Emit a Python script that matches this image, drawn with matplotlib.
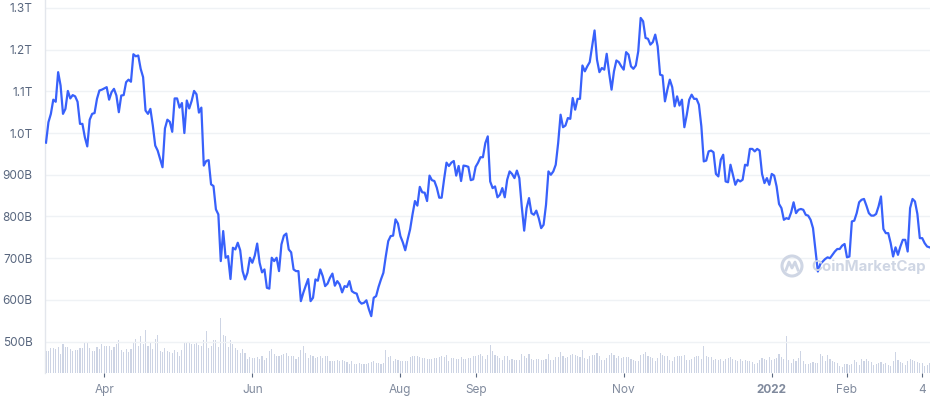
import numpy as np
import pandas as pd
import matplotlib
matplotlib.use("Agg")
import matplotlib.pyplot as plt
from matplotlib.patches import Circle
from matplotlib.lines import Line2D
from matplotlib.transforms import IdentityTransform

plt.rcParams['font.family'] = ['Inter', 'DejaVu Sans']

# daily market cap (billions USD), starting 2021-03-08
start = pd.Timestamp("2021-03-08")
cap_mar_may = [977, 1026, 1046, 1080, 1075, 1146, 1114, 1046, 1058, 1101,
               1083, 1091, 1088, 1075, 1022, 1022, 990, 968, 1032, 1046,
               1048, 1082, 1102, 1104, 1107, 1110, 1080, 1098, 1106, 1090,
               1050, 1090, 1091, 1122, 1128, 1123, 1189, 1184, 1186, 1154,
               1134, 1054, 1046, 1058, 1018, 970, 958, 938, 918, 1011,
               1032, 1027, 1003, 1083, 1083, 1061, 1072, 1000, 1078, 1059]
cap_may_jul = [1077, 1101, 1093, 1049, 1061, 922, 933, 935, 877, 873,
               817, 805, 693, 765, 701, 705, 650, 725, 721, 737,
               719, 669, 649, 665, 701, 689, 706, 735, 689, 666,
               673, 629, 627, 701, 693, 701, 669, 733, 754, 759,
               721, 714, 673, 669, 669, 597, 617, 634, 650, 597,
               605, 649, 646, 673, 657, 633, 639, 653, 663, 634]
cap_jul_sep = [645, 637, 618, 633, 631, 645, 621, 617, 615, 597,
               591, 593, 599, 578, 561, 605, 609, 631, 649, 665,
               705, 741, 753, 754, 793, 783, 753, 738, 719, 745,
               769, 805, 837, 826, 871, 858, 857, 837, 898, 887,
               885, 869, 845, 845, 889, 929, 921, 929, 933, 898,
               921, 885, 922, 921, 919, 887, 889, 919, 929, 942]
cap_sep_nov = [942, 976, 992, 884, 868, 872, 846, 852, 868, 846,
               888, 908, 902, 892, 910, 892, 824, 766, 820, 844,
               808, 804, 814, 796, 772, 780, 828, 908, 900, 908,
               924, 976, 1044, 1014, 1018, 1036, 1034, 1084, 1056, 1082,
               1082, 1162, 1148, 1160, 1170, 1208, 1246, 1176, 1146, 1156,
               1152, 1190, 1144, 1104, 1148, 1174, 1170, 1160, 1152, 1194]
cap_nov_jan = [1188, 1160, 1154, 1162, 1196, 1276, 1268, 1228, 1226, 1212,
               1218, 1236, 1208, 1140, 1138, 1076, 1104, 1128, 1110, 1064,
               1088, 1066, 1080, 1014, 1044, 1080, 1092, 1082, 1082, 1068,
               1016, 932, 934, 956, 958, 954, 902, 896, 936, 948,
               884, 882, 924, 900, 876, 888, 884, 888, 924, 922,
               962, 962, 956, 962, 958, 902, 880, 892, 876, 902]
cap_jan_mar = [898, 872, 830, 820, 792, 796, 794, 810, 834, 808,
               816, 818, 816, 804, 802, 792, 772, 720, 668, 686,
               692, 698, 702, 700, 708, 716, 722, 722, 730, 734,
               702, 704, 788, 790, 808, 834, 840, 842, 826, 808,
               802, 802, 806, 824, 848, 770, 760, 760, 736, 704,
               726, 708, 728, 744, 744, 716, 820, 842, 836, 806,
               748, 748, 736, 728, 726]
market_cap = (cap_mar_may + cap_may_jul + cap_jul_sep + cap_sep_nov
              + cap_nov_jan + cap_jan_mar)

# daily 24h volume (billions USD)
vol_2021a = [39, 40, 45, 45, 44, 47, 35, 53, 47, 47, 44, 39, 41, 42, 45, 45, 56, 55, 45, 39,
             39, 46, 44, 53, 49, 48, 48, 42, 47, 52, 60, 42, 37, 44, 37, 43, 56, 62, 49, 67,
             53, 78, 48, 55, 44, 61, 69, 39, 37, 45, 39, 38, 36, 42, 37, 31, 42, 55, 55, 55,
             53, 53, 55, 51, 48, 60, 75, 45, 48, 59, 60, 47, 99, 69, 66, 47, 60, 53, 45, 42,
             36, 43, 36, 25, 29, 27, 27, 29, 25, 31, 24, 27, 39, 43, 35, 31, 31, 33, 35, 36,
             30, 30, 30, 25, 29, 42, 48, 36, 27, 33, 31, 27, 29, 30, 27, 31, 31, 21, 21, 22,
             24, 21, 24, 21, 19, 17, 21, 17, 17, 18, 17, 16, 16, 18, 19, 21, 18, 18, 17, 18,
             41, 29, 31, 21, 25, 23, 21, 21, 21, 21, 29, 31, 30, 31, 29, 27, 27, 25, 25, 25,
             27, 27, 29, 30, 29, 33, 21, 27, 27, 25, 25, 29, 25, 25, 27]
vol_2021b = [27, 30, 31, 33, 35, 30, 25, 33, 51, 39, 33, 31, 27, 23, 31, 30, 24, 25, 24, 23,
             23, 35, 31, 27, 35, 25, 24, 25, 25, 24, 24, 25, 35, 24, 23, 29, 29, 38, 30, 27,
             29, 33, 34, 33, 31, 29, 42, 27, 25, 31, 33, 33, 36, 31, 23, 23, 27, 33, 36, 33,
             27, 30, 27, 29, 29, 29, 25, 24, 21, 21, 33, 35, 38, 31, 29, 27, 21, 27, 36, 33,
             31, 31, 24, 21, 29, 30, 30, 31, 33, 24, 23, 25, 29, 30, 30, 25, 49, 30, 29, 29,
             24, 25, 24, 25, 21, 25, 27, 29, 25, 23, 21, 25, 21, 23, 21, 21, 19, 17, 18, 23,
             27, 25, 23, 29, 23, 25, 27, 35, 29, 25, 67, 23, 18, 25, 21, 27, 39, 21, 17, 17,
             18, 19, 18, 18, 35, 30, 21, 33, 25, 21, 19, 18, 13, 11, 17, 17, 15, 17, 24, 19,
             15, 25, 21, 25, 21, 19, 15, 17, 18, 19, 17, 18, 15, 12, 21, 37, 24, 19, 18, 15,
             21, 25, 24, 21, 19, 18, 18, 12, 15, 18]
volume = vol_2021a + vol_2021b

ytick_vals = [500, 600, 700, 800, 900, 1000, 1100, 1200, 1300]
ytick_labels = ["500B", "600B", "700B", "800B", "900B", "1.0T", "1.1T", "1.2T", "1.3T"]
xtick_dates = ["2021-04-01", "2021-06-01", "2021-08-01", "2021-09-01",
               "2021-11-01", "2022-01-01", "2022-02-01", "2022-03-04"]
xtick_labels = ["Apr", "Jun", "Aug", "Sep", "Nov", "2022", "Feb", "4"]

cap_dates = pd.date_range(start, periods=len(market_cap), freq="D")
vol_dates = pd.date_range(start, periods=len(volume), freq="D")

fig = plt.figure(figsize=(9.3, 4.0), dpi=100)
ax = fig.add_axes([45 / 930, 27 / 400, 885 / 930, 373 / 400])
ax2 = ax.twinx()

# volume bars behind the line
ax2.bar(vol_dates, volume, width=0.45, color="#cdd4e4", linewidth=0)
ax2.set_ylim(0, 671)
ax2.axis("off")

ax.set_zorder(ax2.get_zorder() + 1)
ax.patch.set_visible(False)

ax.plot(cap_dates, market_cap, color="#3861fb", linewidth=1.6, zorder=3,
        solid_joinstyle="round")

ax.set_ylim(424.7, 1319)
ax.set_xlim(start - pd.Timedelta(hours=10), start + pd.Timedelta(days=364.2))

ax.set_yticks(ytick_vals)
ax.set_yticklabels(ytick_labels)
ax.set_xticks(pd.to_datetime(xtick_dates))
ax.set_xticklabels(xtick_labels)
for lab in ax.get_xticklabels():
    if lab.get_text() == "2022":
        lab.set_fontweight("bold")
        lab.set_color("#58667e")

ax.grid(axis="y", color="#eff2f5", linewidth=1)
ax.set_axisbelow(True)
ax.tick_params(axis="y", length=0, pad=9, labelsize=8.5, labelcolor="#58667e")
ax.tick_params(axis="x", length=3, width=0.8, color="#58667e", pad=5,
               labelsize=8.5, labelcolor="#808a9d")
for side in ["top", "right", "bottom"]:
    ax.spines[side].set_visible(False)
ax.spines["left"].set_color("#e3e6ec")
ax.spines["left"].set_linewidth(1)

# watermark logo (pixel coordinates, origin bottom-left)
wm = "#cfd6e4"
cx, cy = 792, 134
fig.patches.append(Circle((cx, cy), 10, transform=IdentityTransform(),
                          fill=False, edgecolor=wm, linewidth=2.2, zorder=1))
fig.lines.append(Line2D([cx - 6, cx - 3, cx, cx + 3, cx + 6],
                        [cy - 4, cy + 4, cy - 2, cy + 4, cy - 4],
                        transform=IdentityTransform(), color=wm, linewidth=2.0,
                        solid_joinstyle="round", zorder=1))
fig.text(811 / 930, 1 - 267 / 400, "CoinMarketCap", fontsize=10.8, fontweight="bold",
         color=wm, ha="left", va="center", zorder=1)

fig.savefig("out.png", dpi=100)
